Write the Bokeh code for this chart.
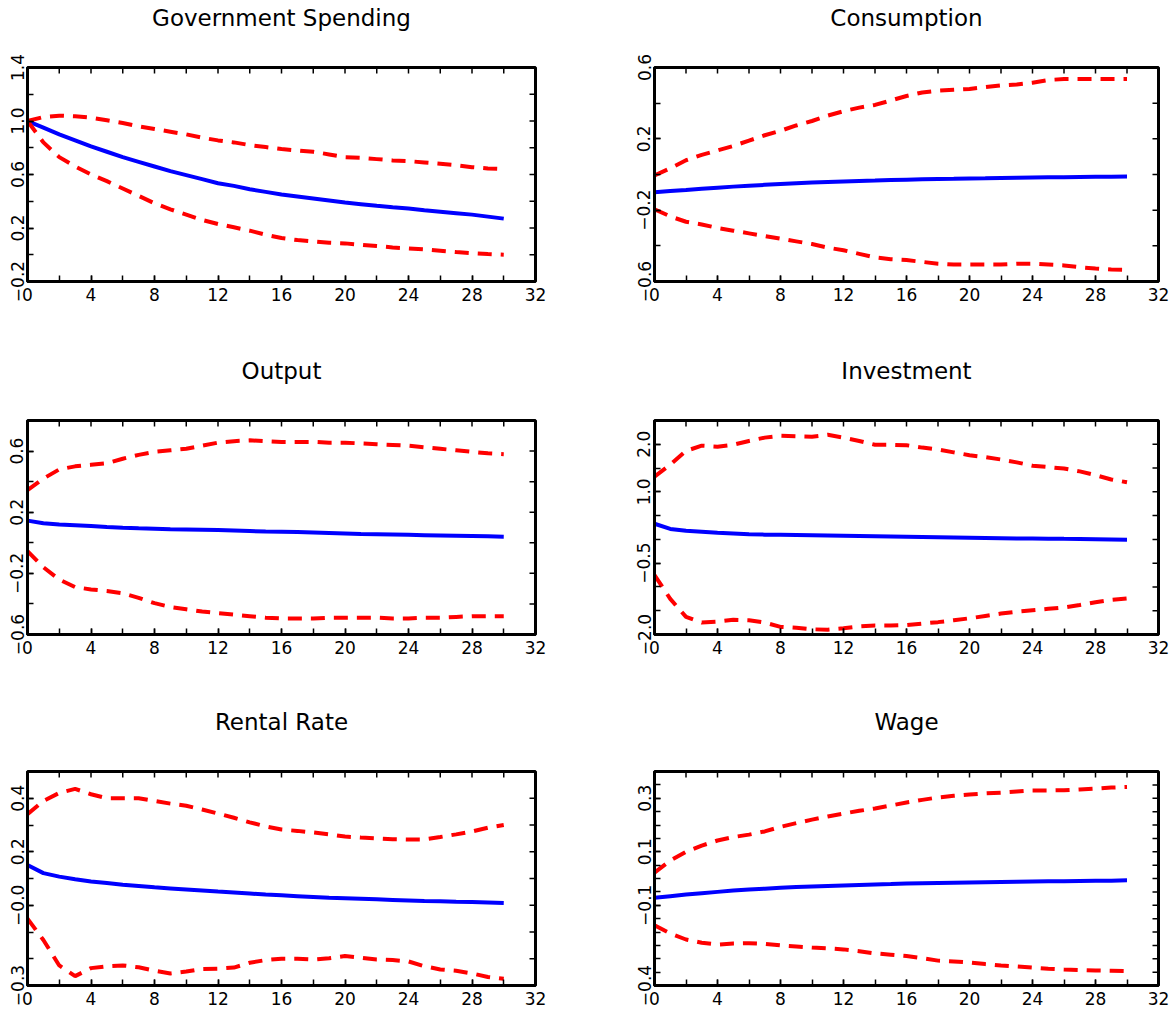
import math
from bokeh.plotting import figure
from bokeh.layouts import column, row
from bokeh.models import Range1d, FixedTicker, LinearAxis
from bokeh.embed import file_html
from bokeh.resources import INLINE

# ---------------- data ----------------
horizon = list(range(31))

titles = ["Government Spending", "Consumption", "Output",
          "Investment", "Rental Rate", "Wage"]

gs_med = [1.00, 0.95, 0.90, 0.855, 0.81, 0.77, 0.73, 0.695, 0.66, 0.625, 0.595,
          0.565, 0.535, 0.515, 0.49, 0.47, 0.45, 0.435, 0.42, 0.405, 0.39,
          0.378, 0.366, 0.355, 0.345, 0.333, 0.322, 0.311, 0.30, 0.285, 0.27]
gs_hi = [1.00, 1.03, 1.04, 1.035, 1.025, 1.005, 0.985, 0.96, 0.94, 0.92, 0.90,
         0.875, 0.855, 0.84, 0.82, 0.805, 0.79, 0.78, 0.77, 0.75, 0.73,
         0.725, 0.715, 0.705, 0.70, 0.69, 0.68, 0.67, 0.655, 0.645, 0.64]
gs_lo = [1.00, 0.84, 0.73, 0.66, 0.60, 0.55, 0.495, 0.44, 0.385, 0.34, 0.30,
         0.26, 0.23, 0.205, 0.18, 0.15, 0.125, 0.11, 0.10, 0.09, 0.085,
         0.075, 0.065, 0.055, 0.047, 0.04, 0.03, 0.02, 0.012, 0.005, 0.0]

c_med = [-0.10, -0.093, -0.087, -0.08, -0.074, -0.068, -0.063, -0.058, -0.053, -0.049, -0.045,
         -0.042, -0.039, -0.036, -0.034, -0.031, -0.029, -0.027, -0.025, -0.024, -0.022,
         -0.021, -0.019, -0.018, -0.017, -0.016, -0.015, -0.014, -0.013, -0.012, -0.011]
c_hi = [-0.005, 0.035, 0.08, 0.11, 0.135, 0.16, 0.19, 0.22, 0.245, 0.275, 0.30,
        0.33, 0.355, 0.375, 0.39, 0.415, 0.44, 0.46, 0.47, 0.475, 0.48,
        0.49, 0.50, 0.505, 0.515, 0.53, 0.535, 0.535, 0.535, 0.535, 0.535]
c_lo = [-0.195, -0.235, -0.265, -0.28, -0.30, -0.315, -0.33, -0.345, -0.36, -0.375, -0.39,
        -0.41, -0.425, -0.445, -0.465, -0.475, -0.48, -0.49, -0.50, -0.505, -0.505,
        -0.505, -0.505, -0.50, -0.50, -0.505, -0.51, -0.52, -0.527, -0.533, -0.535]

y_med = [0.145, 0.128, 0.12, 0.115, 0.11, 0.104, 0.099, 0.095, 0.092, 0.089, 0.087,
         0.085, 0.083, 0.08, 0.077, 0.074, 0.072, 0.07, 0.067, 0.064, 0.061,
         0.058, 0.056, 0.054, 0.052, 0.05, 0.048, 0.046, 0.044, 0.042, 0.04]
y_hi = [0.345, 0.42, 0.48, 0.50, 0.51, 0.52, 0.55, 0.575, 0.595, 0.605, 0.615,
        0.635, 0.655, 0.665, 0.67, 0.665, 0.66, 0.66, 0.66, 0.655, 0.655,
        0.65, 0.645, 0.64, 0.635, 0.625, 0.615, 0.605, 0.595, 0.585, 0.58]
y_lo = [-0.055, -0.16, -0.24, -0.29, -0.305, -0.315, -0.33, -0.36, -0.395, -0.42, -0.435,
        -0.45, -0.46, -0.47, -0.48, -0.49, -0.495, -0.495, -0.495, -0.49, -0.49,
        -0.49, -0.49, -0.495, -0.495, -0.49, -0.49, -0.485, -0.48, -0.48, -0.48]

i_med = [0.33, 0.22, 0.18, 0.16, 0.14, 0.125, 0.11, 0.10, 0.095, 0.09, 0.085,
         0.08, 0.075, 0.07, 0.065, 0.06, 0.055, 0.05, 0.045, 0.04, 0.035,
         0.03, 0.025, 0.02, 0.018, 0.015, 0.012, 0.01, 0.005, 0.0, -0.005]
i_hi = [1.32, 1.57, 1.86, 1.97, 1.95, 1.99, 2.07, 2.14, 2.18, 2.17, 2.16,
        2.20, 2.14, 2.07, 1.99, 1.99, 1.98, 1.93, 1.89, 1.83, 1.77,
        1.73, 1.68, 1.62, 1.55, 1.52, 1.49, 1.43, 1.35, 1.26, 1.20]
i_lo = [-0.75, -1.25, -1.63, -1.75, -1.73, -1.69, -1.70, -1.75, -1.84, -1.86, -1.89,
        -1.90, -1.87, -1.83, -1.81, -1.81, -1.80, -1.77, -1.74, -1.70, -1.66,
        -1.61, -1.56, -1.52, -1.49, -1.46, -1.43, -1.38, -1.32, -1.27, -1.24]

r_med = [0.15, 0.12, 0.107, 0.097, 0.089, 0.083, 0.077, 0.072, 0.067, 0.063, 0.059,
         0.055, 0.051, 0.048, 0.044, 0.04, 0.037, 0.034, 0.031, 0.028, 0.026,
         0.024, 0.022, 0.02, 0.018, 0.016, 0.015, 0.013, 0.012, 0.01, 0.008]
r_hi = [0.34, 0.39, 0.42, 0.435, 0.415, 0.40, 0.40, 0.40, 0.39, 0.38, 0.372,
        0.358, 0.343, 0.327, 0.31, 0.295, 0.283, 0.278, 0.272, 0.265, 0.257,
        0.253, 0.25, 0.247, 0.246, 0.246, 0.255, 0.265, 0.276, 0.29, 0.30]
r_lo = [-0.05, -0.13, -0.225, -0.265, -0.235, -0.228, -0.225, -0.232, -0.245, -0.255, -0.248,
        -0.238, -0.237, -0.233, -0.215, -0.205, -0.20, -0.20, -0.203, -0.198, -0.19,
        -0.196, -0.203, -0.205, -0.21, -0.228, -0.24, -0.245, -0.255, -0.268, -0.275]

w_med = [-0.072, -0.066, -0.06, -0.055, -0.05, -0.045, -0.041, -0.038, -0.035, -0.032, -0.03,
         -0.028, -0.026, -0.024, -0.022, -0.021, -0.019, -0.018, -0.017, -0.016, -0.015,
         -0.014, -0.013, -0.012, -0.011, -0.01, -0.01, -0.009, -0.008, -0.008, -0.007]
w_hi = [0.022, 0.067, 0.10, 0.123, 0.142, 0.155, 0.164, 0.176, 0.193, 0.207, 0.22,
        0.232, 0.243, 0.253, 0.262, 0.273, 0.284, 0.294, 0.303, 0.309, 0.314,
        0.318, 0.321, 0.325, 0.329, 0.329, 0.33, 0.333, 0.336, 0.34, 0.342]
w_lo = [-0.175, -0.205, -0.228, -0.24, -0.247, -0.243, -0.242, -0.244, -0.25, -0.254, -0.258,
        -0.261, -0.265, -0.272, -0.28, -0.285, -0.29, -0.298, -0.307, -0.31, -0.314,
        -0.32, -0.325, -0.329, -0.333, -0.337, -0.34, -0.342, -0.344, -0.345, -0.346]

# x axis ticks
x_major = [0, 4, 8, 12, 16, 20, 24, 28, 32]
x_minor = [0, 2, 4, 6, 8, 10, 12, 14, 16, 18, 20, 22, 24, 26, 28, 30, 32]

# y axis: range, labelled ticks, label texts, minor ticks
gs_yr = (-0.2, 1.4)
gs_ticks = [-0.2, 0.2, 0.6, 1.0, 1.4]
gs_text = ["\u22120.2", "0.2", "0.6", "1.0", "1.4"]
gs_minor = [-0.2, 0.0, 0.2, 0.4, 0.6, 0.8, 1.0, 1.2, 1.4]

c_yr = (-0.6, 0.6)
c_ticks = [-0.6, -0.2, 0.2, 0.6]
c_text = ["\u22120.6", "\u22120.2", "0.2", "0.6"]
c_minor = [-0.6, -0.4, -0.2, 0.0, 0.2, 0.4, 0.6]

y_yr = (-0.6, 0.8)
y_ticks = [-0.6, -0.2, 0.2, 0.6]
y_text = ["\u22120.6", "\u22120.2", "0.2", "0.6"]
y_minor = [-0.6, -0.4, -0.2, 0.0, 0.2, 0.4, 0.6, 0.8]

i_yr = (-2.0, 2.5)
i_ticks = [-2.0, -0.5, 1.0, 2.0]
i_text = ["\u22122.0", "\u22120.5", "1.0", "2.0"]
i_minor = [-2.0, -1.5, -1.0, -0.5, 0.0, 0.5, 1.0, 1.5, 2.0, 2.5]

r_yr = (-0.3, 0.5)
r_ticks = [-0.3, 0.0, 0.2, 0.4]
r_text = ["\u22120.3", "\u22120.0", "0.2", "0.4"]
r_minor = [-0.3, -0.2, -0.1, 0.0, 0.1, 0.2, 0.3, 0.4, 0.5]

w_yr = (-0.4, 0.4)
w_ticks = [-0.4, -0.1, 0.1, 0.3]
w_text = ["\u22120.4", "\u22120.1", "0.1", "0.3"]
w_minor = [-0.4, -0.35, -0.3, -0.25, -0.2, -0.15, -0.1, -0.05, 0.0,
           0.05, 0.1, 0.15, 0.2, 0.25, 0.3, 0.35, 0.4]

# ---------------- styling ----------------
FONT = "DejaVu Sans"
TICK_SIZE = "17px"
TITLE_SIZE = "23px"
BLUE = "#0000ff"
RED = "#ff0000"
TICK_LEN = 6


def style_axis(ax):
    ax.axis_line_color = "black"
    ax.axis_line_width = 3
    ax.major_tick_in = TICK_LEN
    ax.major_tick_out = 0
    ax.minor_tick_in = TICK_LEN
    ax.minor_tick_out = 0
    ax.major_tick_line_color = "black"
    ax.minor_tick_line_color = "black"
    ax.major_tick_line_width = 1.5
    ax.minor_tick_line_width = 1.5
    ax.major_label_text_font = FONT
    ax.major_label_text_font_size = TICK_SIZE
    ax.major_label_text_color = "black"


def panel(title, med, hi, lo, yr, yticks, ytext, yminor,
          left, right, top, bottom, fw, fh):
    p = figure(frame_width=fw, frame_height=fh, title=None,
               min_border_left=left, min_border_right=right,
               min_border_top=top, min_border_bottom=bottom,
               x_range=Range1d(0, 32), y_range=Range1d(yr[0], yr[1]),
               toolbar_location=None, output_backend="svg",
               x_axis_location=None, y_axis_location=None)
    p.grid.visible = False
    p.outline_line_color = "black"
    p.outline_line_width = 3
    p.background_fill_color = "white"
    p.border_fill_color = "white"

    xt = FixedTicker(ticks=x_major, minor_ticks=x_minor)
    yt = FixedTicker(ticks=yticks, minor_ticks=yminor)

    # title carried by a tick-less axis above the frame
    tx = LinearAxis(ticker=FixedTicker(ticks=[], minor_ticks=[]))
    tx.axis_line_color = None
    tx.major_tick_in = 0
    tx.major_tick_out = 0
    tx.minor_tick_in = 0
    tx.minor_tick_out = 0
    tx.major_label_standoff = 0
    tx.axis_label = title
    tx.axis_label_text_font = FONT
    tx.axis_label_text_font_size = TITLE_SIZE
    tx.axis_label_text_font_style = "normal"
    tx.axis_label_text_color = "black"
    tx.axis_label_standoff = 37
    p.add_layout(tx, "above")

    bx = LinearAxis(ticker=xt)
    style_axis(bx)
    bx.major_label_standoff = 6
    p.add_layout(bx, "below")

    ly = LinearAxis(ticker=yt)
    style_axis(ly)
    ly.major_label_orientation = "vertical"
    ly.major_label_standoff = 4
    ly.major_label_overrides = {v: t for v, t in zip(yticks, ytext)}
    p.add_layout(ly, "left")

    # inner ticks on the top and right edges of the frame
    p.ray(x=x_minor, y=[yr[1]] * len(x_minor), length=TICK_LEN,
          length_units="screen", angle=-math.pi / 2,
          line_color="black", line_width=1.5)
    p.ray(x=[32] * len(yminor), y=yminor, length=TICK_LEN,
          length_units="screen", angle=math.pi,
          line_color="black", line_width=1.5)

    p.line(horizon, med, line_color=BLUE, line_width=4)
    p.line(horizon, hi, line_color=RED, line_width=4, line_dash="14 9")
    p.line(horizon, lo, line_color=RED, line_width=4, line_dash="14 9")
    return p


LW, RW = 508, 504
FH = 214
L_LEFT, L_RIGHT = 27, 92
R_LEFT, R_RIGHT = 27, 12
TOP = 67

p1 = panel(titles[0], gs_med, gs_hi, gs_lo, gs_yr, gs_ticks, gs_text, gs_minor,
           L_LEFT, L_RIGHT, TOP, 72, LW, FH)
p2 = panel(titles[1], c_med, c_hi, c_lo, c_yr, c_ticks, c_text, c_minor,
           R_LEFT, R_RIGHT, TOP, 72, RW, FH)
p3 = panel(titles[2], y_med, y_hi, y_lo, y_yr, y_ticks, y_text, y_minor,
           L_LEFT, L_RIGHT, TOP, 70, LW, FH)
p4 = panel(titles[3], i_med, i_hi, i_lo, i_yr, i_ticks, i_text, i_minor,
           R_LEFT, R_RIGHT, TOP, 70, RW, FH)
p5 = panel(titles[4], r_med, r_hi, r_lo, r_yr, r_ticks, r_text, r_minor,
           L_LEFT, L_RIGHT, TOP, 28, LW, FH)
p6 = panel(titles[5], w_med, w_hi, w_lo, w_yr, w_ticks, w_text, w_minor,
           R_LEFT, R_RIGHT, TOP, 28, RW, FH)

layout = column(row(p1, p2), row(p3, p4), row(p5, p6))

open("out.html", "w").write(file_html(layout, INLINE))
